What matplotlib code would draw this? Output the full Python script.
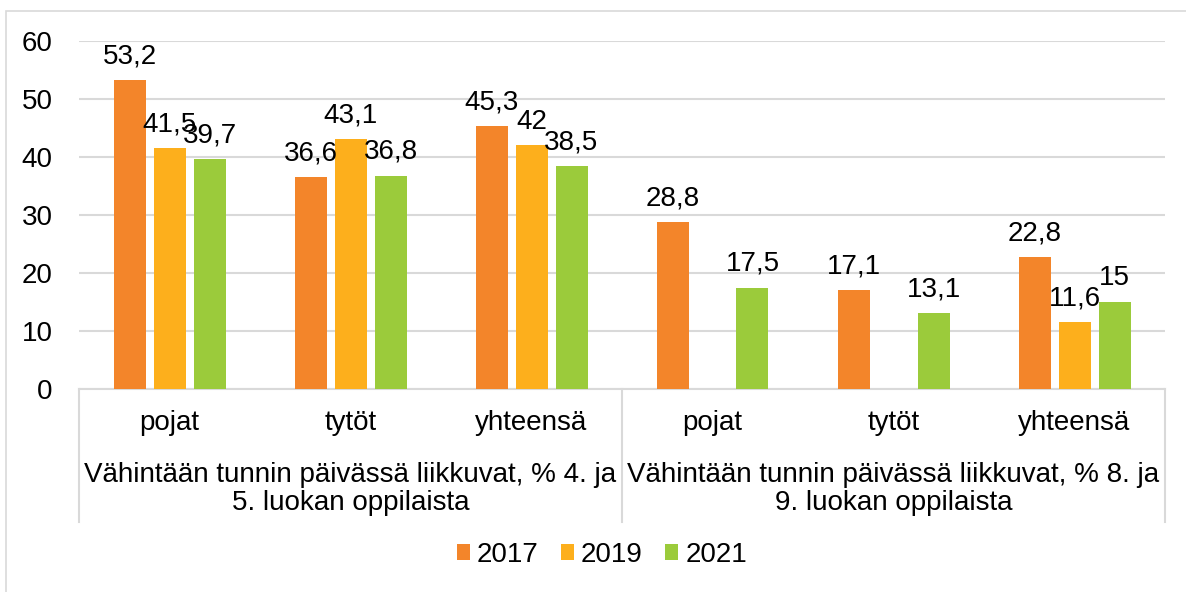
import numpy as np
import matplotlib
matplotlib.use("Agg")
import matplotlib.pyplot as plt
import matplotlib.transforms as mtransforms
from matplotlib.patches import Rectangle, Patch

# ──────────────────────────────────────────────
#  Data
# ──────────────────────────────────────────────
categories = ["pojat", "tytöt", "yhteensä", "pojat", "tytöt", "yhteensä"]
groups = [
    "Vähintään tunnin päivässä liikkuvat, % 4. ja\n5. luokan oppilaista",
    "Vähintään tunnin päivässä liikkuvat, % 8. ja\n9. luokan oppilaista",
]
years = ["2017", "2019", "2021"]
vals_2017 = [53.2, 36.6, 45.3, 28.8, 17.1, 22.8]
vals_2019 = [41.5, 43.1, 42.0, np.nan, np.nan, 11.6]
vals_2021 = [39.7, 36.8, 38.5, 17.5, 13.1, 15.0]
yticks = [0, 10, 20, 30, 40, 50, 60]

colors = ["#F3852A", "#FDAF1C", "#9BCB3B"]
grid_col = "#D9D9D9"

plt.rcParams["font.family"] = ["Liberation Sans", "DejaVu Sans"]
FS = 20

fig = plt.figure(figsize=(11.86, 5.92), dpi=100)
W, H = 1186, 592
# plot area in pixels: x 79..1165, y 41..389
ax = fig.add_axes([79 / W, 1 - 389 / H, (1165 - 79) / W, (389 - 41) / H])

# chart border (right/bottom run off the image like the original)
fig.patches.append(Rectangle((6 / W, -0.1), 1.2, 1 - 11 / H + 0.1,
                             transform=fig.transFigure, fill=False,
                             edgecolor=grid_col, linewidth=1.2))

x = np.arange(len(categories))
step = 40 / 181
width = 32 / 181
series = [vals_2017, vals_2019, vals_2021]

for i, (vals, col) in enumerate(zip(series, colors)):
    xs = x + (i - 1) * step
    ax.bar(xs, vals, width=width, color=col, zorder=3)
    for xx, v in zip(xs, vals):
        if np.isnan(v):
            continue
        txt = f"{v:g}".replace(".", ",")
        ax.annotate(txt, (xx, v), xytext=(0, 12), textcoords="offset points",
                    ha="center", va="baseline", fontsize=FS, zorder=4)

ax.set_xlim(-0.5, len(categories) - 0.5)
ax.set_ylim(0, 60)
ax.set_yticks(yticks)
ax.set_yticklabels([str(t) for t in yticks], fontsize=FS)
ax.tick_params(axis="y", length=0, pad=19)
ax.set_xticks([])
ax.grid(axis="y", color=grid_col, linewidth=1.5, zorder=0)
for s in ["left", "right", "top"]:
    ax.spines[s].set_visible(False)
ax.spines["bottom"].set_color(grid_col)
ax.spines["bottom"].set_linewidth(1.5)

# multi-level category axis
trans = mtransforms.blended_transform_factory(ax.transData, ax.transAxes)
ph = 389 - 41
for xx, lab in zip(x, categories):
    ax.text(xx, -(423 - 389) / ph, lab, transform=trans, ha="center",
            va="center", fontsize=FS)
for g, lab in enumerate(groups):
    ax.text(g * 3 + 1, -(489 - 389) / ph, lab, transform=trans, ha="center",
            va="center", fontsize=FS, linespacing=1.1)
for xd in [-0.5, 2.5, 5.5]:
    ax.plot([xd, xd], [0, -(522 - 389) / ph], transform=trans, color=grid_col,
            linewidth=1.5, clip_on=False)

handles = [Patch(facecolor=c, edgecolor="none") for c in colors]
fig.legend(handles, years, loc="center", bbox_to_anchor=(602 / W, 1 - 555 / H),
           ncol=3, frameon=False, fontsize=FS, handlelength=0.47,
           handleheight=0.47, handletextpad=0.25, columnspacing=0.8)

fig.savefig("out.png", dpi=100)
